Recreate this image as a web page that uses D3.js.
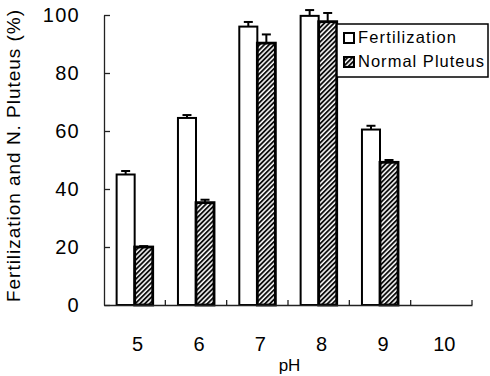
<!DOCTYPE html>
<html>
<head>
<meta charset="utf-8">
<script src="https://cdn.jsdelivr.net/npm/d3@7"></script>
<style>
  body { margin: 0; background: #fff; }
  svg { display: block; font-family: "Liberation Sans", Arial, sans-serif; }
</style>
</head>
<body>
<div id="ui"></div>
<script>
// pH vs fertilization / normal pluteus rate
var phs = ["5", "6", "7", "8", "9", "10"];
var seriesNames = ["Fertilization", "Normal Pluteus"];
var fert = [45, 64.5, 96, 99.7, 60.5, 0];
var fertErr = [1.2, 1, 1.6, 2, 1.3, 0];
var plut = [20, 35.3, 90.3, 97.7, 49.2, 0];
var plutErr = [0.3, 1, 3, 3, 0.8, 0];
var yTicks = [0, 20, 40, 60, 80, 100];

var w = 490, h = 376;
// note: "top" is taken by window.top, so plot edges get their own names
var padL = 104, padR = 472, padT = 15, padB = 305;

var svg = d3.select("#ui").append("svg")
  .attr("width", w)
  .attr("height", h);

var defs = svg.append("defs");
var hatch = defs.append("pattern")
  .attr("id", "hatch")
  .attr("patternUnits", "userSpaceOnUse")
  .attr("width", 3.4)
  .attr("height", 3.4)
  .attr("patternTransform", "rotate(45)");
hatch.append("rect").attr("width", 3.4).attr("height", 3.4).attr("fill", "#fff");
hatch.append("line")
  .attr("x1", 1).attr("y1", 0).attr("x2", 1).attr("y2", 3.4)
  .attr("stroke", "#000").attr("stroke-width", 1.8);

// scales
var x0 = d3.scaleBand().domain(phs).range([padL, padR]).padding(0);
var x1 = d3.scaleBand().domain(seriesNames).range([0, x0.bandwidth()])
  .paddingInner(0).paddingOuter(0.7);
var y = d3.scaleLinear().domain([0, 100]).range([padB, padT]);

var rows = phs.map(function (p, i) {
  return [
    { ph: p, s: seriesNames[0], v: fert[i], e: fertErr[i] },
    { ph: p, s: seriesNames[1], v: plut[i], e: plutErr[i] }
  ];
});
var flat = d3.merge(rows);

// error bars (drawn first so the bar outline sits on top)
var eb = svg.append("g").selectAll("g").data(flat.filter(d => d.e > 0))
  .enter().append("g")
  .attr("stroke", "#000").attr("stroke-width", 2);
eb.append("line")
  .attr("x1", d => x0(d.ph) + x1(d.s) + x1.bandwidth() / 2)
  .attr("x2", d => x0(d.ph) + x1(d.s) + x1.bandwidth() / 2)
  .attr("y1", d => y(d.v))
  .attr("y2", d => y(d.v + d.e));
eb.append("line")
  .attr("x1", d => x0(d.ph) + x1(d.s) + x1.bandwidth() / 2 - 4.5)
  .attr("x2", d => x0(d.ph) + x1(d.s) + x1.bandwidth() / 2 + 4.5)
  .attr("y1", d => y(d.v + d.e))
  .attr("y2", d => y(d.v + d.e));

// bars
svg.append("g").selectAll("rect").data(flat)
  .enter().append("rect")
  .attr("x", d => x0(d.ph) + x1(d.s))
  .attr("y", d => y(d.v))
  .attr("width", x1.bandwidth())
  .attr("height", d => y(0) - y(d.v))
  .attr("fill", d => d.s == seriesNames[0] ? "#fff" : "url(#hatch)")
  .attr("stroke", "#000")
  .attr("stroke-width", d => d.s == seriesNames[0] ? 2 : 2.8);

// y axis, ticks pointing inwards
var yAxis = d3.axisLeft(y).tickValues(yTicks).tickSize(-6).tickSizeOuter(0).tickPadding(24);
var gy = svg.append("g")
  .attr("transform", "translate(" + padL + ",0)")
  .call(yAxis);
gy.select(".domain").attr("stroke", "#222").attr("stroke-width", 1.3);
gy.selectAll(".tick line").attr("stroke", "#222").attr("stroke-width", 1.3);
gy.selectAll("text")
  .attr("font-size", 20)
  .attr("letter-spacing", 1.3)
  .attr("fill", "#000");

// x axis: labels at band centres, small ticks at band edges
var xAxis = d3.axisBottom(x0).tickSize(0).tickPadding(32);
var gx = svg.append("g")
  .attr("transform", "translate(0," + padB + ")")
  .call(xAxis);
gx.select(".domain").attr("stroke", "#222").attr("stroke-width", 1.3);
gx.selectAll("text").attr("font-size", 20).attr("fill", "#000")
  .attr("dx", 3);

svg.append("g").selectAll("line").data(phs)
  .enter().append("line")
  .attr("x1", d => x0(d) + x0.bandwidth())
  .attr("x2", d => x0(d) + x0.bandwidth())
  .attr("y1", padB)
  .attr("y2", padB - 5)
  .attr("stroke", "#222").attr("stroke-width", 1.3);

// axis titles
svg.append("text")
  .attr("text-anchor", "middle")
  .attr("transform", "translate(20,156)rotate(-90)")
  .attr("font-size", 19)
  .attr("textLength", 292)
  .attr("lengthAdjust", "spacing")
  .text("Fertilization and N. Pluteus (%)");

svg.append("text")
  .attr("text-anchor", "middle")
  .attr("x", 289.5)
  .attr("y", 371)
  .attr("font-size", 17)
  .text("pH");

// legend
var lg = svg.append("g");
lg.append("rect")
  .attr("x", 337).attr("y", 24).attr("width", 151).attr("height", 53)
  .attr("fill", "#fff").attr("stroke", "#000").attr("stroke-width", 1.5);
var items = lg.selectAll("g.item").data(seriesNames)
  .enter().append("g")
  .attr("transform", (d, i) => "translate(0," + (i * 24) + ")");
items.append("rect")
  .attr("x", 344).attr("y", 33).attr("width", 10).attr("height", 10)
  .attr("fill", (d, i) => i == 0 ? "#fff" : "url(#hatch)")
  .attr("stroke", "#000").attr("stroke-width", 2);
items.append("text")
  .attr("x", 358).attr("y", 43)
  .attr("font-size", 16.5)
  .attr("textLength", (d, i) => i == 0 ? 98 : 126)
  .attr("lengthAdjust", "spacing")
  .text(d => d);
</script>
</body>
</html>
